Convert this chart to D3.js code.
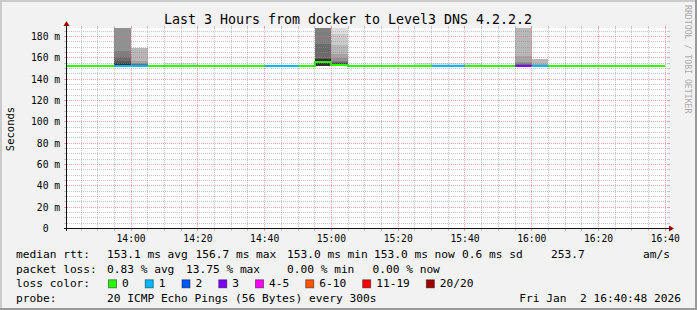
<!DOCTYPE html>
<html>
<head>
<meta charset="utf-8">
<style>
    body { margin: 0; background: #f2f2f2; }
    svg { display: block; font-family: 'DejaVu Sans Mono', monospace; }
    .title { font-size: 13.3px; fill: #000; }
    .tick-label { font-size: 9.7px; fill: #000; }
    .unit { font-size: 10.5px; fill: #000; }
    .legend { font-size: 11.2px; fill: #000; }
    .watermark { font-size: 8.2px; fill: #ababab; }
</style>
</head>
<body>
<svg width="697" height="310"></svg>
<script src="https://cdn.jsdelivr.net/npm/d3@7"></script>
<script>
    // 5 minute rrd steps (start of step)
    const stepStart = ["13:40", "13:45", "13:50", "13:55", "14:00", "14:05", "14:10", "14:15", "14:20",
        "14:25", "14:30", "14:35", "14:40", "14:45", "14:50", "14:55", "15:00", "15:05", "15:10", "15:15",
        "15:20", "15:25", "15:30", "15:35", "15:40", "15:45", "15:50", "15:55", "16:00", "16:05", "16:10",
        "16:15", "16:20", "16:25", "16:30", "16:35"];
    const medianRtt = [153.0, 153.0, 153.0, 152.4, 152.4, 153.0, 153.0, 153.0, 153.0,
        153.0, 153.0, 153.0, 153.0, 153.0, 153.0, 156.7, 154.0, 153.0, 153.0, 153.0,
        153.0, 153.0, 153.0, 153.0, 153.0, 153.0, 153.0, 153.0, 153.0, 153.0, 153.0,
        153.0, 153.0, 153.0, 153.0, 153.0];
    const lostPings = [0, 0, 0, 1, 1, 0, 0, 0, 0,
        0, 0, 0, 1, 1, 0, 0, 0, 0, 0, 0,
        0, 0, 1, 1, 0, 0, 0, 3, 1, 0, 0,
        0, 0, 0, 0, 0];

    // the 20 pings of the steps that show smoke
    const smokeStep = ["13:55", "14:00", "14:10", "14:15", "14:55", "15:00", "15:25", "15:30", "15:35", "15:40", "15:55", "16:00"];
    const smokePings = [
        [152.0, 152.2, 152.4, 152.5, 152.6, 152.7, 152.8, 152.9, 153.0, 153.1, 154.0, 155.5, 157.0, 161.0, 166.0, 205, 215, 228, 240, 262],
        [152.1, 152.3, 152.4, 152.5, 152.6, 152.7, 152.8, 152.9, 153.0, 153.0, 153.1, 153.3, 153.6, 154.0, 154.5, 155.5, 157.5, 169.0, 169.0, 169.0],
        [152.8, 152.8, 152.9, 152.9, 152.9, 153.0, 153.0, 153.0, 153.0, 153.0, 153.0, 153.0, 153.1, 153.1, 153.1, 153.2, 153.2, 153.3, 153.6, 154.9],
        [152.8, 152.8, 152.9, 152.9, 152.9, 153.0, 153.0, 153.0, 153.0, 153.0, 153.0, 153.0, 153.1, 153.1, 153.1, 153.2, 153.2, 153.3, 153.6, 155.0],
        [152.0, 152.1, 152.2, 152.2, 152.3, 152.3, 152.4, 152.4, 152.5, 152.5, 158.5, 159.2, 160.0, 173.0, 205, 212, 220, 232, 245, 260],
        [152.4, 152.5, 152.6, 152.7, 152.8, 152.9, 153.0, 153.2, 153.4, 153.6, 154.5, 154.8, 155.2, 155.8, 157.0, 160.0, 164.0, 172.0, 182.0, 215],
        [152.8, 152.8, 152.9, 152.9, 152.9, 153.0, 153.0, 153.0, 153.0, 153.0, 153.0, 153.0, 153.1, 153.1, 153.1, 153.2, 153.2, 153.3, 153.6, 154.8],
        [152.8, 152.8, 152.9, 152.9, 152.9, 153.0, 153.0, 153.0, 153.0, 153.0, 153.0, 153.0, 153.1, 153.1, 153.1, 153.2, 153.2, 153.3, 153.6, 154.8],
        [152.8, 152.8, 152.9, 152.9, 152.9, 153.0, 153.0, 153.0, 153.0, 153.0, 153.0, 153.0, 153.1, 153.1, 153.1, 153.2, 153.2, 153.3, 153.6, 154.8],
        [152.8, 152.8, 152.9, 152.9, 152.9, 153.0, 153.0, 153.0, 153.0, 153.0, 153.0, 153.0, 153.1, 153.1, 153.1, 153.2, 153.2, 153.3, 153.6, 154.8],
        [152.2, 152.3, 152.4, 152.5, 152.6, 152.7, 152.8, 152.9, 153.0, 153.0, 153.1, 153.3, 153.6, 154.2, 155.0, 156.0, 162.0, 200, 215, 235],
        [152.4, 152.5, 152.6, 152.7, 152.8, 152.8, 152.9, 152.9, 153.0, 153.0, 153.0, 153.1, 153.1, 153.2, 153.3, 153.5, 154.0, 159.0, 159.0, 159.0]
    ];

    const graphStart = "13:40:48";
    const graphEnd = "16:40:48";
    const yTop = 188;
    const yTickValues = [0, 20, 40, 60, 80, 100, 120, 140, 160, 180];
    const xTickLabels = ["14:00", "14:20", "14:40", "15:00", "15:20", "15:40", "16:00", "16:20", "16:40"];

    const lossLabels = ["0", "1", "2", "3", "4-5", "6-10", "11-19", "20/20"];
    const lossUpTo = [0, 1, 2, 3, 5, 10, 19, 20];
    const lossColors = ["#26ff00", "#00b8ff", "#0059ff", "#7e00ff", "#ff00ff", "#ff5500", "#ff0000", "#a10000"];

    const title = "Last 3 Hours from docker to Level3 DNS 4.2.2.2";
    const rttStats = ["153.1 ms avg", "156.7 ms max", "153.0 ms min", "153.0 ms now", "0.6 ms sd", "253.7", "am/s"];
    const lossStats = ["0.83 % avg", "13.75 % max", "0.00 % min", "0.00 % now"];
    const probeText = "20 ICMP Echo Pings (56 Bytes) every 300s";
    const stamp = "Fri Jan  2 16:40:48 2026";

    let svg = d3.select("svg");
    let W = 697, H = 310;
    let pL = 67, pR = 668, pT = 28, pB = 228.5;

    let parseStep = d3.timeParse("%H:%M");
    let parseClock = d3.timeParse("%H:%M:%S");
    let STEP = 5 * 60 * 1000;

    let x = d3.scaleTime()
        .domain([parseClock(graphStart), parseClock(graphEnd)])
        .range([pL, pR]);

    let y = d3.scaleLinear()
        .domain([0, yTop])
        .range([pB, pT]);

    let snap = v => Math.floor(v) + 0.5;

    // background + shades
    svg.append("rect").attr("width", W).attr("height", H).attr("fill", "#f2f2f2");
    svg.append("path").attr("d", `M0,0H${W}V2H2V${H}H0Z`).attr("fill", "#cbcbcb");
    svg.append("path").attr("d", `M${W},${H}H0V${H - 2}H${W - 2}V0H${W}Z`).attr("fill", "#999");

    svg.append("rect")
        .attr("x", pL).attr("y", pT)
        .attr("width", pR - pL).attr("height", pB + 0.5 - pT)
        .attr("fill", "#fff");

    svg.append("clipPath").attr("id", "plot")
        .append("rect")
        .attr("x", pL).attr("y", pT)
        .attr("width", pR - pL).attr("height", pB - pT);

    // smoke
    let bands = [];
    smokeStep.forEach((s, i) => {
        let t = parseStep(s);
        let p = smokePings[i].slice().sort(d3.ascending);
        let n = p.length, half = n / 2;
        for (let k = 1; k <= half; k++) {
            let g = Math.floor(190 / half * (half - k)) + 50;
            bands.push({ t: t, lo: p[k - 1], hi: p[n - k], grey: d3.rgb(g, g, g) });
        }
    });

    svg.append("g")
        .attr("clip-path", "url(#plot)")
        .selectAll("rect")
        .data(bands.filter(d => d.hi > d.lo))
        .join("rect")
        .attr("x", d => Math.round(x(d.t)))
        .attr("width", d => Math.round(x(new Date(+d.t + STEP))) - Math.round(x(d.t)))
        .attr("y", d => Math.round(y(Math.min(d.hi, yTop + 5))))
        .attr("height", d => Math.round(y(d.lo)) - Math.round(y(Math.min(d.hi, yTop + 5))))
        .attr("fill", d => d.grey);

    // median line, coloured by packet loss
    let bucket = n => lossUpTo.findIndex(m => n <= m);
    let runs = [];
    stepStart.forEach((s, i) => {
        let b = bucket(lostPings[i]);
        let last = runs[runs.length - 1];
        if (!last || last.b !== b) { last = { b: b, pts: [] }; runs.push(last); }
        last.pts.push({ t: parseStep(s), v: medianRtt[i] });
    });
    runs.forEach(r => {
        let end = r.pts[r.pts.length - 1];
        r.pts.push({ t: new Date(+end.t + STEP), v: end.v });
    });

    let medLine = d3.line()
        .x(d => Math.round(x(d.t)))
        .y(d => Math.round(y(d.v) + 0.5))
        .curve(d3.curveStepAfter);

    svg.append("g")
        .attr("clip-path", "url(#plot)")
        .selectAll("path")
        .data(runs)
        .join("path")
        .attr("d", d => medLine(d.pts))
        .attr("fill", "none")
        .attr("stroke", d => lossColors[d.b])
        .attr("stroke-width", 2);

    // grid (drawn over the graph like rrdtool)
    let minorCol = "rgba(140,140,140,0.5)", majorCol = "rgba(232,110,110,0.6)";
    let minorTickCol = "#c4c4c4", majorTickCol = "#eb9b9b";
    let grid = svg.append("g");

    let hLines = d3.range(5, yTop, 5).map(v => ({ v: v, major: v % 20 === 0 }));
    let vLines = x.ticks(d3.timeMinute.every(5)).map(t => ({ t: t, major: t.getMinutes() % 20 === 0 }));

    grid.selectAll(".hg").data(hLines).join("line")
        .attr("x1", pL).attr("x2", pR)
        .attr("y1", d => snap(y(d.v))).attr("y2", d => snap(y(d.v)))
        .attr("stroke", d => d.major ? majorCol : minorCol)
        .attr("stroke-dasharray", "1,1");
    grid.selectAll(".hl").data(hLines).join("path")
        .attr("d", d => `M${pL - 3},${snap(y(d.v))}H${pL}M${pR},${snap(y(d.v))}H${pR + 2}`)
        .attr("stroke", d => d.major ? majorTickCol : minorTickCol);

    grid.selectAll(".vg").data(vLines).join("line")
        .attr("y1", pT).attr("y2", pB)
        .attr("x1", d => snap(x(d.t))).attr("x2", d => snap(x(d.t)))
        .attr("stroke", d => d.major ? majorCol : minorCol)
        .attr("stroke-dasharray", "1,1");
    grid.selectAll(".vt").data(vLines).join("path")
        .attr("d", d => `M${snap(x(d.t))},${pT - 2}V${pT}M${snap(x(d.t))},${pB}V${pB + 2.5}`)
        .attr("stroke", d => d.major ? majorTickCol : minorTickCol);

    // axes
    svg.append("path").attr("d", `M${pL - 3},${pB}H${pR + 1}`).attr("stroke", "#111");
    svg.append("path").attr("d", `M${pL - 0.5},${pB + 2.5}V${pT - 2}`).attr("stroke", "#111");
    svg.append("path").attr("d", `M${pR + 1},${pB - 3}L${pR + 6},${pB}L${pR + 1},${pB + 3}Z`).attr("fill", "#9a0000");
    svg.append("path").attr("d", `M${pL - 3.5},${pT - 2}L${pL - 0.5},${pT - 7}L${pL + 2.5},${pT - 2}Z`).attr("fill", "#9a0000");

    // y labels
    let yl = svg.append("g").attr("class", "tick-label");
    yl.selectAll(".num").data(yTickValues).join("text")
        .attr("x", 48.5).attr("y", d => snap(y(d)) + 3.5)
        .attr("text-anchor", "end")
        .text(d => d);
    yl.selectAll(".u").data(yTickValues.filter(d => d > 0)).join("text")
        .attr("x", 54.3).attr("y", d => snap(y(d)) + 3.5)
        .text("m");

    // x labels
    svg.append("g").attr("class", "tick-label")
        .selectAll("text").data(xTickLabels).join("text")
        .attr("x", d => x(parseStep(d)))
        .attr("y", 241.5)
        .attr("text-anchor", "middle")
        .text(d => d);

    svg.append("text").attr("class", "title")
        .attr("x", 348).attr("y", 23.5)
        .attr("text-anchor", "middle")
        .text(title);

    svg.append("text").attr("class", "unit")
        .attr("transform", "translate(13.5,129) rotate(-90)")
        .attr("text-anchor", "middle")
        .text("Seconds");

    svg.append("text").attr("class", "watermark")
        .attr("transform", "translate(684.5,5) rotate(90)")
        .text("RRDTOOL / TOBI OETIKER");

    // legend
    let rows = [258, 272.7, 287.3, 302];
    let lg = svg.append("g").attr("class", "legend");
    let say = (tx, ty, s) => lg.append("text")
        .attr("x", tx).attr("y", ty)
        .attr("xml:space", "preserve")
        .text(s);

    say(16, rows[0], "median rtt:");
    say(16, rows[1], "packet loss:");
    say(16, rows[2], "loss color:");
    say(16, rows[3], "probe:");

    let rttCols = [107, 195.5, 287, 374, 462, 551, 643];
    rttStats.forEach((s, i) => say(rttCols[i], rows[0], s));

    let lossCols = [107, 186, 287, 372.5];
    lossStats.forEach((s, i) => say(lossCols[i], rows[1], s));

    let cur = 108;
    lossLabels.forEach((lab, i) => {
        lg.append("rect")
            .attr("x", cur + 0.5).attr("y", rows[2] - 7.5)
            .attr("width", 8).attr("height", 8)
            .attr("fill", lossColors[i])
            .attr("stroke", "rgba(0,0,0,0.45)");
        let t = say(cur + 14, rows[2], lab);
        cur = cur + 14 + t.node().getComputedTextLength() + 16;
    });

    say(107, rows[3], probeText);
    say(681, rows[3], stamp).attr("text-anchor", "end");
</script>
</body>
</html>
